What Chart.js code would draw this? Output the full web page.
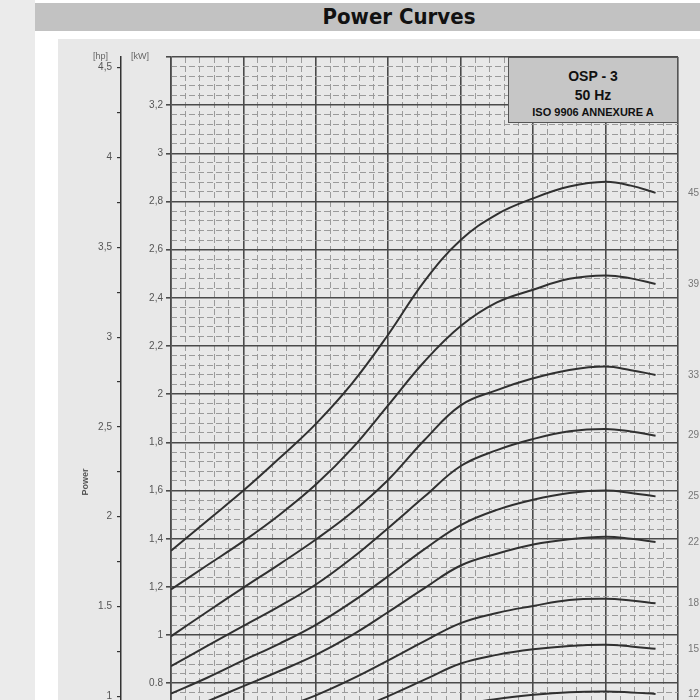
<!DOCTYPE html>
<html>
<head>
<meta charset="utf-8">
<title>Power Curves</title>
<script src="https://cdn.jsdelivr.net/npm/chart.js@4.4.1/dist/chart.umd.min.js"></script>
<style>
  html, body { margin: 0; padding: 0; }
  body { width: 700px; height: 700px; overflow: hidden; position: relative; background: #ebebeb; font-family: "Liberation Sans", Arial, sans-serif; }
  #sheet { position: absolute; left: 35px; top: 0; width: 700px; height: 900px; background: #fff; }
  #band { position: absolute; left: 35px; top: 3px; width: 700px; height: 28px; background: #c2c2c2; }
  #title { position: absolute; left: 249px; top: 3px; width: 300px; height: 28px; line-height: 28px; text-align: center;
           font-family: "DejaVu Sans Condensed", "DejaVu Sans", sans-serif; font-weight: bold; font-size: 22px; color: #111; }
  #panel { position: absolute; left: 58px; top: 39px; width: 662px; height: 860px; background: #e8e8e8; }
  #panel canvas { position: absolute; left: 0; top: 0; }
  .unit { position: absolute; top: 51px; font-size: 9px; color: #666; }
  #power { position: absolute; left: 55px; top: 476px; width: 60px; height: 12px; line-height: 12px; text-align: center;
           font-size: 9px; font-weight: bold; color: #555; transform: rotate(-90deg); }
  #box { position: absolute; left: 508px; top: 57px; width: 170px; height: 66px; box-sizing: border-box;
         border: 1.5px solid #555; background: #c6c6c6; color: #111; font-weight: bold; text-align: center; }
  #box div { position: absolute; left: 0; width: 100%; }
</style>
</head>
<body>
<div id="sheet"></div>
<div id="band"></div>
<div id="title">Power Curves</div>
<div id="panel"><canvas id="grafica" width="662" height="860"></canvas></div>
<div class="unit" style="left:93px">[hp]</div>
<div class="unit" style="left:131px">[kW]</div>
<div id="power">Power</div>
<div id="box">
  <div style="top:10px;font-size:14px">OSP - 3</div>
  <div style="top:29px;font-size:14px">50 Hz</div>
  <div style="top:48px;font-size:11px">ISO 9906 ANNEXURE A</div>
</div>
<script>
// flow (major grid divisions) and power in kW for each curve
var flow = [0, 0.5, 1, 1.5, 2, 2.5, 3, 3.5, 4, 4.5, 5, 5.5, 6, 6.35, 6.69];
var stages = ['45', '39', '33', '29', '25', '22', '18', '15', '12'];

var p45 = [1.35, 1.475, 1.60, 1.735, 1.877, 2.045, 2.248, 2.47, 2.64, 2.747, 2.813, 2.862, 2.882, 2.866, 2.836];
var p39 = [1.19, 1.29, 1.39, 1.50, 1.625, 1.775, 1.955, 2.136, 2.283, 2.381, 2.434, 2.479, 2.493, 2.481, 2.458];
var p33 = [0.995, 1.097, 1.197, 1.295, 1.397, 1.51, 1.645, 1.81, 1.954, 2.017, 2.066, 2.101, 2.115, 2.10, 2.08];
var p29 = [0.871, 0.955, 1.038, 1.12, 1.21, 1.32, 1.445, 1.575, 1.702, 1.768, 1.814, 1.846, 1.856, 1.845, 1.828];
var p25 = [0.757, 0.823, 0.895, 0.965, 1.043, 1.138, 1.245, 1.357, 1.457, 1.52, 1.562, 1.59, 1.60, 1.59, 1.576];
var p22 = [0.66, 0.725, 0.788, 0.851, 0.918, 1.0, 1.096, 1.195, 1.289, 1.338, 1.376, 1.398, 1.408, 1.40, 1.387];
var p18 = [0.54, 0.592, 0.644, 0.695, 0.75, 0.818, 0.895, 0.975, 1.05, 1.092, 1.121, 1.146, 1.151, 1.144, 1.132];
var p15 = [0.45, 0.494, 0.537, 0.58, 0.626, 0.683, 0.747, 0.815, 0.882, 0.918, 0.941, 0.955, 0.96, 0.953, 0.943];
var p12 = [0.36, 0.395, 0.43, 0.465, 0.502, 0.548, 0.60, 0.655, 0.708, 0.735, 0.752, 0.763, 0.766, 0.762, 0.756];
var curves = [p45, p39, p33, p29, p25, p22, p18, p15, p12];

// tick labels
var kwTicks = [0, 0.2, 0.4, 0.6, 0.8, 1, 1.2, 1.4, 1.6, 1.8, 2, 2.2, 2.4, 2.6, 2.8, 3, 3.2, 3.4];
var kwLabels = ['0', '0,2', '0,4', '0,6', '0.8', '1', '1,2', '1,4', '1,6', '1,8', '2', '2,2', '2,4', '2,6', '2,8', '3', '3,2', ''];
var hpTicks = [0, 0.25, 0.5, 0.75, 1, 1.25, 1.5, 1.75, 2, 2.25, 2.5, 2.75, 3, 3.25, 3.5, 3.75, 4, 4.25, 4.5];
var hpLabels = ['0', '', '0,5', '', '1', '', '1.5', '', '2', '', '2,5', '', '3', '', '3,5', '', '4', '', '4,5'];

var KW_MAX = 3.4;
var HP_PER_KW = 1 / 0.7457;

var major = '#4a4a4a';
var minor = '#9a9a9a';

function isStep(v, step) {
  var r = v / step;
  return Math.abs(r - Math.round(r)) < 1e-6;
}

var datasets = curves.map(function(c, k) {
  return {
    label: stages[k],
    data: flow.map(function(f, i) { return { x: f, y: c[i] }; }),
    borderColor: '#303030',
    borderWidth: 2,
    pointRadius: 0,
    fill: false,
    tension: 0.4,
    xAxisID: 'x',
    yAxisID: 'y'
  };
});

var endValues = curves.map(function(c) { return c[c.length - 1]; });

Chart.defaults.font.family = '"Liberation Sans", Arial, sans-serif';
Chart.defaults.font.size = 10;
Chart.defaults.color = '#555';

var ctx = document.getElementById('grafica').getContext('2d');
new Chart(ctx, {
  type: 'line',
  data: { datasets: datasets },
  options: {
    responsive: false,
    animation: false,
    layout: { padding: { top: 18, left: 0, right: 0, bottom: 23 } },
    plugins: { legend: { display: false }, tooltip: { enabled: false } },
    scales: {
      x2: {
        type: 'linear', position: 'bottom', min: 0, max: 7,
        ticks: { display: false, stepSize: 0.2 },
        grid: {
          drawTicks: false, lineWidth: 1,
          color: function(c) { return isStep(c.tick.value, 1) ? 'transparent' : minor; }
        },
        border: { display: false, dash: [6, 3] },
        afterFit: function(s) { s.height = 0; }
      },
      x: {
        type: 'linear', position: 'bottom', min: 0, max: 7,
        ticks: { display: false, stepSize: 1 },
        grid: { drawTicks: false, color: major, lineWidth: 1.6 },
        border: { display: true, color: major, width: 1.6 },
        afterFit: function(s) { s.height = 0; }
      },
      y2: {
        type: 'linear', position: 'left', min: 0, max: KW_MAX, weight: -1,
        ticks: { display: false, stepSize: 0.04 },
        grid: {
          drawTicks: false, lineWidth: 1,
          color: function(c) { return isStep(c.tick.value, 0.2) ? 'transparent' : minor; }
        },
        border: { display: false, dash: [6, 3] },
        afterFit: function(s) { s.width = 0; }
      },
      y: {
        type: 'linear', position: 'left', min: 0, max: KW_MAX, weight: 0,
        afterBuildTicks: function(s) { s.ticks = kwTicks.map(function(v) { return { value: v }; }); },
        ticks: {
          autoSkip: false, padding: 3, color: '#555',
          callback: function(v, i) { return kwLabels[i]; }
        },
        grid: { color: major, lineWidth: 1.6, tickLength: 5 },
        border: { display: true, color: major, width: 1.6 },
        afterFit: function(s) { s.width = 50; }
      },
      hp: {
        type: 'linear', position: 'left', min: 0, max: KW_MAX * HP_PER_KW, weight: 1,
        afterBuildTicks: function(s) { s.ticks = hpTicks.map(function(v) { return { value: v }; }); },
        ticks: {
          autoSkip: false, padding: 5, color: '#555',
          callback: function(v, i) { return hpLabels[i]; }
        },
        grid: { drawOnChartArea: false, color: '#333', lineWidth: 1.2, tickLength: 4 },
        border: { display: true, color: '#333', width: 1.5 },
        afterFit: function(s) { s.width = 63; }
      },
      stage: {
        type: 'linear', position: 'right', min: 0, max: KW_MAX,
        afterBuildTicks: function(s) { s.ticks = endValues.map(function(v) { return { value: v }; }); },
        ticks: {
          autoSkip: false, padding: 10, color: '#777',
          callback: function(v, i) { return stages[i]; }
        },
        grid: { display: false, drawTicks: false },
        border: { display: false },
        afterFit: function(s) { s.width = 42; }
      }
    }
  }
});
</script>
</body>
</html>
